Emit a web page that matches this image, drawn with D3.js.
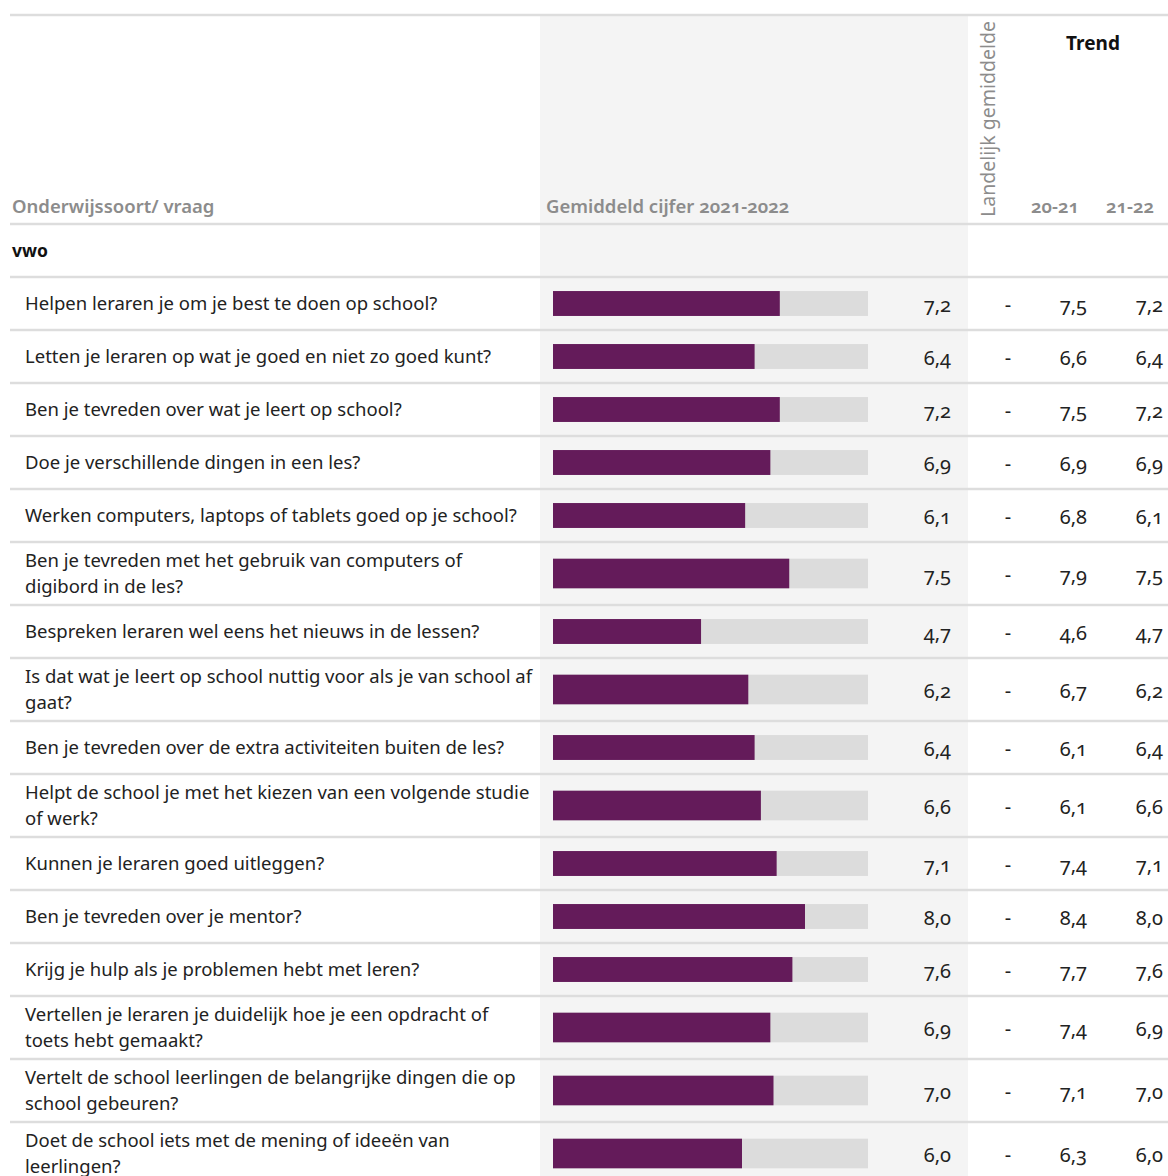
<!DOCTYPE html>
<html>
<head>
<meta charset="utf-8">
<script src="https://cdnjs.cloudflare.com/ajax/libs/d3/7.8.5/d3.min.js"></script>
<style>
  body { margin: 0; background: #fff; }
  svg text { font-family: "Noto Sans", Lato, sans-serif; font-variant-numeric: oldstyle-nums; }
</style>
</head>
<body>
<div class="chart"></div>
<script>
// data
var groupLabel = "vwo";
var questions = [
    ["Helpen leraren je om je best te doen op school?"],
    ["Letten je leraren op wat je goed en niet zo goed kunt?"],
    ["Ben je tevreden over wat je leert op school?"],
    ["Doe je verschillende dingen in een les?"],
    ["Werken computers, laptops of tablets goed op je school?"],
    ["Ben je tevreden met het gebruik van computers of", "digibord in de les?"],
    ["Bespreken leraren wel eens het nieuws in de lessen?"],
    ["Is dat wat je leert op school nuttig voor als je van school af", "gaat?"],
    ["Ben je tevreden over de extra activiteiten buiten de les?"],
    ["Helpt de school je met het kiezen van een volgende studie", "of werk?"],
    ["Kunnen je leraren goed uitleggen?"],
    ["Ben je tevreden over je mentor?"],
    ["Krijg je hulp als je problemen hebt met leren?"],
    ["Vertellen je leraren je duidelijk hoe je een opdracht of", "toets hebt gemaakt?"],
    ["Vertelt de school leerlingen de belangrijke dingen die op", "school gebeuren?"],
    ["Doet de school iets met de mening of ideeën van", "leerlingen?"]
];
var score2122 = [7.2, 6.4, 7.2, 6.9, 6.1, 7.5, 4.7, 6.2, 6.4, 6.6, 7.1, 8.0, 7.6, 6.9, 7.0, 6.0];
var landelijk = ["-", "-", "-", "-", "-", "-", "-", "-", "-", "-", "-", "-", "-", "-", "-", "-"];
var trend2021 = [7.5, 6.6, 7.5, 6.9, 6.8, 7.9, 4.6, 6.7, 6.1, 6.1, 7.4, 8.4, 7.7, 7.4, 7.1, 6.3];
var trend2122 = score2122;
var trendYears = ["20-21", "21-22"];

var svgWidth = 1168;
var svgHeight = 1176;

var svg = d3.select(".chart")
    .append("svg")
    .attr("width", svgWidth)
    .attr("height", svgHeight);

var fmt = function (v) { return d3.format(".1f")(v).replace(".", ","); };

// layout
var headerTop = 16, headerBottom = 224, groupH = 53;
var rows = [];
var yPos = headerBottom + groupH;
questions.forEach(function (q, i) {
    var h = q.length === 1 ? 53 : 63;
    rows.push({ lines: q, y: yPos, h: h, score: score2122[i], land: landelijk[i], t1: trend2021[i], t2: trend2122[i] });
    yPos += h;
});

var x = d3.scaleLinear().domain([0, 10]).range([553, 868]);

// grey panel behind the bar column
svg.append("rect")
    .attr("x", 540).attr("y", headerTop)
    .attr("width", 428).attr("height", svgHeight - headerTop)
    .attr("fill", "#f4f4f4");

// horizontal rules
var ruleYs = [15, headerBottom, headerBottom + groupH].concat(rows.map(d => d.y + d.h));
svg.selectAll("line.rule")
    .data(ruleYs)
    .enter()
    .append("line")
    .attr("class", "rule")
    .attr("x1", 10).attr("x2", svgWidth)
    .attr("y1", d => d).attr("y2", d => d)
    .attr("stroke", "#dddddd")
    .attr("stroke-width", 2.5);

// header
var headerColor = "#8c8c8c";
svg.append("text")
    .attr("x", 12).attr("y", 213)
    .attr("fill", headerColor)
    .attr("font-size", 18.5).attr("font-weight", 600)
    .text("Onderwijssoort/ vraag");

svg.append("text")
    .attr("x", 546).attr("y", 213)
    .attr("fill", headerColor)
    .attr("font-size", 18.5).attr("font-weight", 600)
    .text("Gemiddeld cijfer 2021-2022");

svg.append("text")
    .attr("transform", "translate(995,217) rotate(-90)")
    .attr("fill", headerColor)
    .attr("font-size", 19.5)
    .text("Landelijk gemiddelde");

svg.append("text")
    .attr("x", 1093).attr("y", 50)
    .attr("text-anchor", "middle")
    .attr("fill", "#111")
    .attr("font-size", 19).attr("font-weight", 700)
    .text("Trend");

svg.selectAll("text.year")
    .data(trendYears)
    .enter()
    .append("text")
    .attr("class", "year")
    .attr("x", (d, i) => [1055, 1130][i])
    .attr("y", 213)
    .attr("text-anchor", "middle")
    .attr("fill", headerColor)
    .attr("font-size", 18.5).attr("font-weight", 600)
    .text(d => d);

// group label
svg.append("text")
    .attr("x", 12).attr("y", headerBottom + groupH / 2 + 6)
    .attr("fill", "#111")
    .attr("font-size", 17.5).attr("font-weight", 700)
    .text(groupLabel);

// rows
var rowG = svg.selectAll("g.row")
    .data(rows)
    .enter()
    .append("g")
    .attr("class", "row")
    .attr("transform", d => `translate(0, ${d.y})`);

rowG.each(function (d) {
    var g = d3.select(this);
    var lineH = 26;
    var startY = d.h / 2 - (d.lines.length - 1) * lineH / 2 + 6;
    g.selectAll("text.q")
        .data(d.lines)
        .enter()
        .append("text")
        .attr("class", "q")
        .attr("x", 25)
        .attr("y", (l, i) => startY + i * lineH)
        .attr("fill", "#222")
        .attr("font-size", 18.5)
        .text(l => l);
});

var barH = d => d.h * 0.47;

rowG.append("rect")
    .attr("x", x(0))
    .attr("y", d => d.h / 2 - barH(d) / 2)
    .attr("width", x(10) - x(0))
    .attr("height", barH)
    .attr("fill", "#dcdcdc");

rowG.append("rect")
    .attr("x", x(0))
    .attr("y", d => d.h / 2 - barH(d) / 2)
    .attr("width", d => x(d.score) - x(0))
    .attr("height", barH)
    .attr("fill", "#641b5a");

var numY = d => d.h / 2 + 8;
var numSize = 20;

rowG.append("text")
    .attr("x", 951).attr("y", numY)
    .attr("text-anchor", "end")
    .attr("fill", "#222").attr("font-size", numSize)
    .text(d => fmt(d.score));

rowG.append("text")
    .attr("x", 1008).attr("y", numY)
    .attr("text-anchor", "middle")
    .attr("fill", "#222").attr("font-size", numSize)
    .text(d => d.land);

rowG.append("text")
    .attr("x", 1087).attr("y", numY)
    .attr("text-anchor", "end")
    .attr("fill", "#222").attr("font-size", numSize)
    .text(d => fmt(d.t1));

rowG.append("text")
    .attr("x", 1163).attr("y", numY)
    .attr("text-anchor", "end")
    .attr("fill", "#222").attr("font-size", numSize)
    .text(d => fmt(d.t2));
</script>
</body>
</html>
